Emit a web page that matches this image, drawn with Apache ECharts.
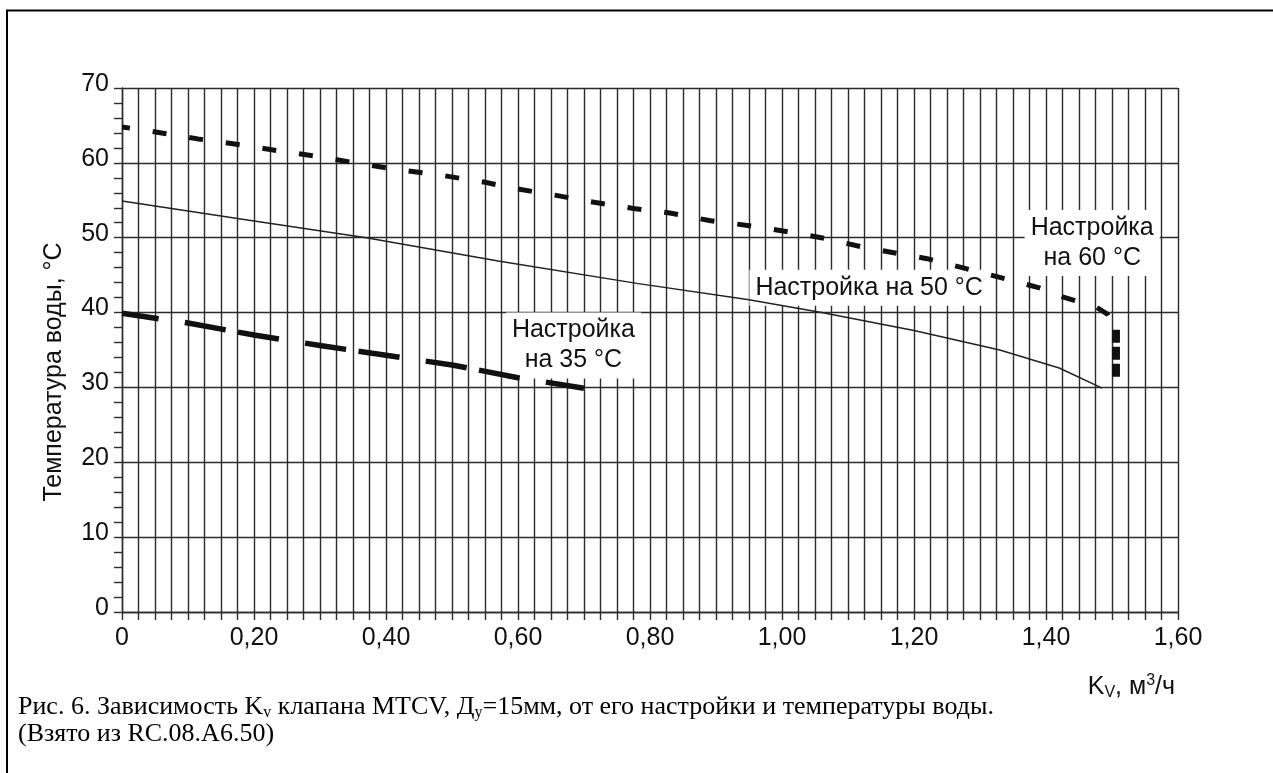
<!DOCTYPE html>
<html><head><meta charset="utf-8">
<script src="https://cdn.jsdelivr.net/npm/echarts@6/dist/echarts.min.js"></script>
<style>html,body{margin:0;padding:0;background:#fff}#c{width:1273px;height:773px}</style>
</head><body><div id="c"></div>
<script>
// ---- tick labels ----
const xTickLabels = ['0','0,20','0,40','0,60','0,80','1,00','1,20','1,40','1,60'];
const yTickLabels = ['0','10','20','30','40','50','60','70'];

// ---- series: setting 60 °C (thick short dashes) ----
const kv60 = [0, 0.06, 0.115, 0.18, 0.245, 0.30, 0.36, 0.425, 0.48, 0.55, 0.60, 0.655, 0.71, 0.775, 0.83, 0.89, 0.96, 1.015, 1.065, 1.12, 1.175, 1.22, 1.273, 1.33, 1.39, 1.425, 1.475, 1.493, 1.503];
const t60  = [64.8, 64.0, 63.2, 62.4, 61.5, 60.8, 59.9, 59.0, 58.4, 57.4, 56.5, 55.7, 54.8, 53.9, 53.3, 52.3, 51.5, 50.7, 49.9, 48.8, 47.9, 47.2, 46.0, 44.7, 43.3, 42.1, 40.8, 39.8, 38.3];
// vertical end of the 60 °C curve (heavy blocks)
const kv60end = [1.506, 1.506];
const t60end  = [37.7, 31.1];

// ---- series: setting 50 °C (thin solid) ----
const kv50 = [0, 0.18, 0.37, 0.57, 0.78, 0.95, 1.06, 1.20, 1.33, 1.42, 1.485];
const t50  = [54.9, 52.5, 50.0, 46.9, 43.9, 41.7, 40.0, 37.6, 35.0, 32.6, 29.9];

// ---- series: setting 35 °C (long thick dashes) ----
const kv35 = [0, 0.10, 0.20, 0.30, 0.40, 0.50, 0.60, 0.70];
const t35  = [39.9, 38.6, 37.0, 35.6, 34.3, 33.0, 31.3, 29.9];

// ---- annotations ----
const noteTexts = ['Настройка\nна 60 °C', 'Настройка на 50 °C', 'Настройка\nна 35 °C'];
const noteKv = [1.47, 1.132, 0.684];
const noteT  = [49.3, 43.3, 35.6];

const zip = (a, b) => a.map((v, i) => [v, b[i]]);
const FONT = '"Liberation Sans", Arial, Helvetica, sans-serif';
const SERIF = '"Liberation Serif", "Times New Roman", serif';
const INK = '#111';
const GRID = '#2b2b2b';

const chart = echarts.init(document.getElementById('c'), null, {renderer: 'canvas'});
chart.setOption({
  animation: false,
  backgroundColor: '#fff',
  grid: {left: 122, right: 95, top: 88, bottom: 161, containLabel: false, outerBoundsMode: 'none'},
  xAxis: {
    type: 'value', min: 0, max: 1.6, interval: 0.025,
    axisLine: {show: true, onZero: false, lineStyle: {color: GRID, width: 1.4}},
    axisTick: {show: true, length: 8, lineStyle: {color: GRID, width: 1.4}},
    splitLine: {show: true, lineStyle: {color: GRID, width: 1.4}},
    axisLabel: {
      margin: 14, fontSize: 25, fontFamily: FONT, color: INK,
      formatter: v => { const k = v / 0.2; const r = Math.round(k); return Math.abs(k - r) < 1e-6 ? xTickLabels[r] : ''; }
    }
  },
  yAxis: {
    type: 'value', min: 0, max: 70, interval: 10,
    axisLine: {show: true, onZero: false, lineStyle: {color: GRID, width: 1.4}},
    axisTick: {show: true, length: 8, lineStyle: {color: GRID, width: 1.4}},
    minorTick: {show: true, splitNumber: 5, length: 8, lineStyle: {color: GRID, width: 1.4}},
    splitLine: {show: true, lineStyle: {color: GRID, width: 1.4}},
    axisLabel: {
      margin: 13, fontSize: 25, fontFamily: FONT, color: INK, verticalAlign: 'bottom', lineHeight: 8,
      formatter: v => yTickLabels[Math.round(v / 10)]
    }
  },
  series: [
    {
      type: 'scatter', z: 1, silent: true, symbolSize: 1,
      itemStyle: {color: 'rgba(0,0,0,0)', opacity: 1},
      data: zip(noteKv, noteT),
      label: {
        show: true, position: 'inside', formatter: p => noteTexts[p.dataIndex],
        fontSize: 25, lineHeight: 30, fontFamily: FONT, color: INK, opacity: 1,
        backgroundColor: '#fff', padding: [3, 6], align: 'center'
      }
    },
    {
      type: 'line', z: 3, silent: true, symbol: 'none', data: zip(kv60, t60),
      lineStyle: {color: INK, width: 5, type: [14, 23], dashOffset: 6, cap: 'butt'}
    },
    {
      type: 'line', z: 3, silent: true, symbol: 'none', data: zip(kv60end, t60end),
      lineStyle: {color: INK, width: 8, type: [13, 4], cap: 'butt'}
    },
    {
      type: 'line', z: 3, silent: true, symbol: 'none', data: zip(kv50, t50),
      lineStyle: {color: '#222', width: 1.5, type: 'solid'}
    },
    {
      type: 'line', z: 3, silent: true, symbol: 'none', data: zip(kv35, t35),
      lineStyle: {color: INK, width: 5.5, type: [41.5, 26.5, 41.5, 12.5], dashOffset: 4.5, cap: 'butt'}
    }
  ],
  graphic: [
    {type: 'rect', silent: true, shape: {x: 7, y: 10.5, width: 1320, height: 820},
     style: {fill: 'none', stroke: '#000', lineWidth: 2}},
    {type: 'text', silent: true, x: 54, y: 372, rotation: Math.PI / 2,
     style: {text: 'Температура воды, °C', font: '25px ' + FONT, fill: INK,
             textAlign: 'center', align: 'center', textVerticalAlign: 'middle', verticalAlign: 'middle'}},
    {type: 'text', silent: true, x: 1175, y: 687,
     style: {text: 'K{s|V}, м{p|3}/ч', font: '25px ' + FONT, fill: INK, lineHeight: 28,
             textAlign: 'right', align: 'right', textVerticalAlign: 'middle', verticalAlign: 'middle',
             rich: {s: {fontSize: 16, fontFamily: FONT, fill: INK, color: INK, verticalAlign: 'bottom', lineHeight: 14},
                    p: {fontSize: 16, fontFamily: FONT, fill: INK, color: INK, verticalAlign: 'top', lineHeight: 14}}}},
    {type: 'text', silent: true, x: 18, y: 694,
     style: {text: 'Рис. 6. Зависимость K{s|v} клапана MTCV, Д{s|у}=15мм, от его настройки и температуры воды.\n(Взято из RC.08.A6.50)',
             font: '26px ' + SERIF, fill: '#000', lineHeight: 27,
             textAlign: 'left', align: 'left', textVerticalAlign: 'top', verticalAlign: 'top',
             rich: {s: {fontSize: 16, fontFamily: SERIF, fill: '#000', color: '#000', verticalAlign: 'bottom', lineHeight: 15}}}}
  ]
});
</script></body></html>
